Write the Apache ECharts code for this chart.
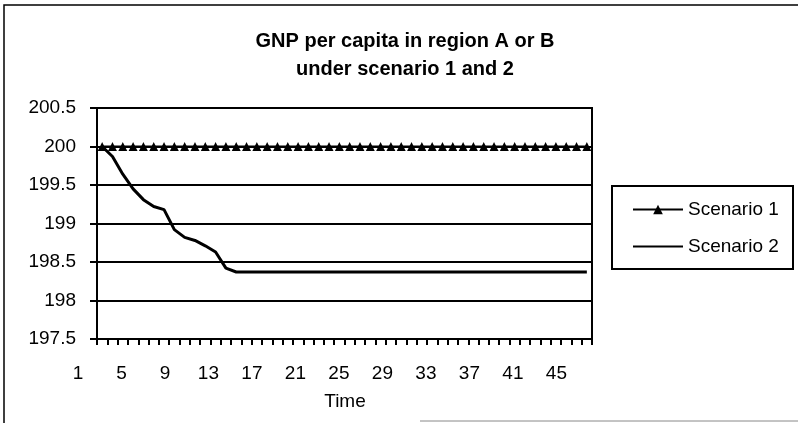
<!DOCTYPE html>
<html>
<head>
<meta charset="utf-8">
<script src="https://cdn.jsdelivr.net/npm/echarts@6/dist/echarts.min.js"></script>
<style>
html,body{margin:0;padding:0;background:#fff;}
#chart{width:798px;height:423px;}
</style>
</head>
<body>
<div id="chart"></div>
<script>
// ---- data ----
const categories = [];
for (let i = 1; i <= 48; i++) categories.push(String(i));
const titleLines = ['GNP per capita in region A or B', 'under scenario 1 and 2'];
const seriesNames = ['Scenario 1', 'Scenario 2'];
const scenario1 = [
  200,200,200,200,200,200,200,200,200,200,200,200,
  200,200,200,200,200,200,200,200,200,200,200,200,
  200,200,200,200,200,200,200,200,200,200,200,200,
  200,200,200,200,200,200,200,200,200,200,200,200
];
const scenario2 = [
  200,199.87,199.64,199.45,199.31,199.22,199.18,198.92,198.82,198.78,198.71,198.63,
  198.42,198.37,198.37,198.37,198.37,198.37,198.37,198.37,198.37,198.37,198.37,198.37,
  198.37,198.37,198.37,198.37,198.37,198.37,198.37,198.37,198.37,198.37,198.37,198.37,
  198.37,198.37,198.37,198.37,198.37,198.37,198.37,198.37,198.37,198.37,198.37,198.37
];
const yMin = 197.5, yMax = 200.5, yStep = 0.5;
const xAxisTitle = 'Time';

// ---- chart ----
const chart = echarts.init(document.getElementById('chart'), null, {renderer: 'canvas'});
const font = 'Arial, "Liberation Sans", sans-serif';
const option = {
  backgroundColor: '#ffffff',
  animation: false,
  textStyle: {fontFamily: font, color: '#000'},
  title: {
    text: titleLines.join('\n'),
    left: 400, top: 22, textAlign: 'center',
    textStyle: {fontFamily: font, fontSize: 20, fontWeight: 'bold', color: '#000', lineHeight: 28}
  },
  legend: {
    orient: 'vertical', left: 632, top: 200,
    itemWidth: 50, itemHeight: 12, itemGap: 18, padding: 0,
    textStyle: {fontFamily: font, fontSize: 19, color: '#000'},
    data: [
      {name: seriesNames[0]},
      {name: seriesNames[1], itemStyle: {opacity: 0}}
    ]
  },
  grid: [
    {left: 97, top: 108, width: 495, height: 231, show: true, borderColor: '#000', borderWidth: 2, backgroundColor: 'transparent'},
    {left: 72.5, top: 108, width: 522, height: 231, show: false}
  ],
  xAxis: [
    {
      type: 'category', gridIndex: 0, data: categories, boundaryGap: true,
      axisLine: {lineStyle: {color: '#000', width: 2}},
      axisTick: {show: true, interval: 0, length: 6, lineStyle: {color: '#000', width: 2}},
      axisLabel: {show: false},
      splitLine: {show: false}
    },
    {
      type: 'category', gridIndex: 1, data: categories, boundaryGap: true,
      axisLine: {show: false}, axisTick: {show: false},
      axisLabel: {interval: 3, margin: 25, fontFamily: font, fontSize: 19, color: '#000'},
      splitLine: {show: false}
    }
  ],
  yAxis: [
    {
      type: 'value', gridIndex: 0, min: yMin, max: yMax, interval: yStep,
      axisLine: {show: true, lineStyle: {color: '#000', width: 2}},
      axisTick: {show: true, length: 7, lineStyle: {color: '#000', width: 2}},
      axisLabel: {margin: 21, fontFamily: font, fontSize: 19, color: '#000'},
      splitLine: {show: true, lineStyle: {color: '#000', width: 2}}
    },
    {
      type: 'value', gridIndex: 1, min: yMin, max: yMax, show: false
    }
  ],
  graphic: [
    {type: 'polyline', shape: {points: [[4, 423], [4, 5], [798, 5]]}, style: {stroke: '#000', lineWidth: 1.5, fill: null}, silent: true},
    {type: 'line', shape: {x1: 420, y1: 421, x2: 798, y2: 421}, style: {stroke: '#888', lineWidth: 1}, silent: true},
    {type: 'rect', shape: {x: 612, y: 186, width: 181, height: 83}, style: {stroke: '#000', lineWidth: 2, fill: null}, silent: true},
    {type: 'text', x: 345, y: 392, style: {text: xAxisTitle, font: '19px ' + font, fill: '#000', align: 'center', verticalAlign: 'top'}, silent: true}
  ],
  series: [
    {
      name: seriesNames[0], type: 'line', xAxisIndex: 0, yAxisIndex: 0,
      data: scenario1, symbol: 'triangle', symbolSize: 9, showSymbol: true, showAllSymbol: true,
      lineStyle: {color: '#000', width: 2}, itemStyle: {color: '#000'}, z: 5
    },
    {
      name: seriesNames[1], type: 'line', xAxisIndex: 0, yAxisIndex: 0,
      data: scenario2, symbol: 'none', showSymbol: false,
      lineStyle: {color: '#000', width: 3}, itemStyle: {color: '#000'}, z: 4
    }
  ]
};
chart.setOption(option);
</script>
</body>
</html>
